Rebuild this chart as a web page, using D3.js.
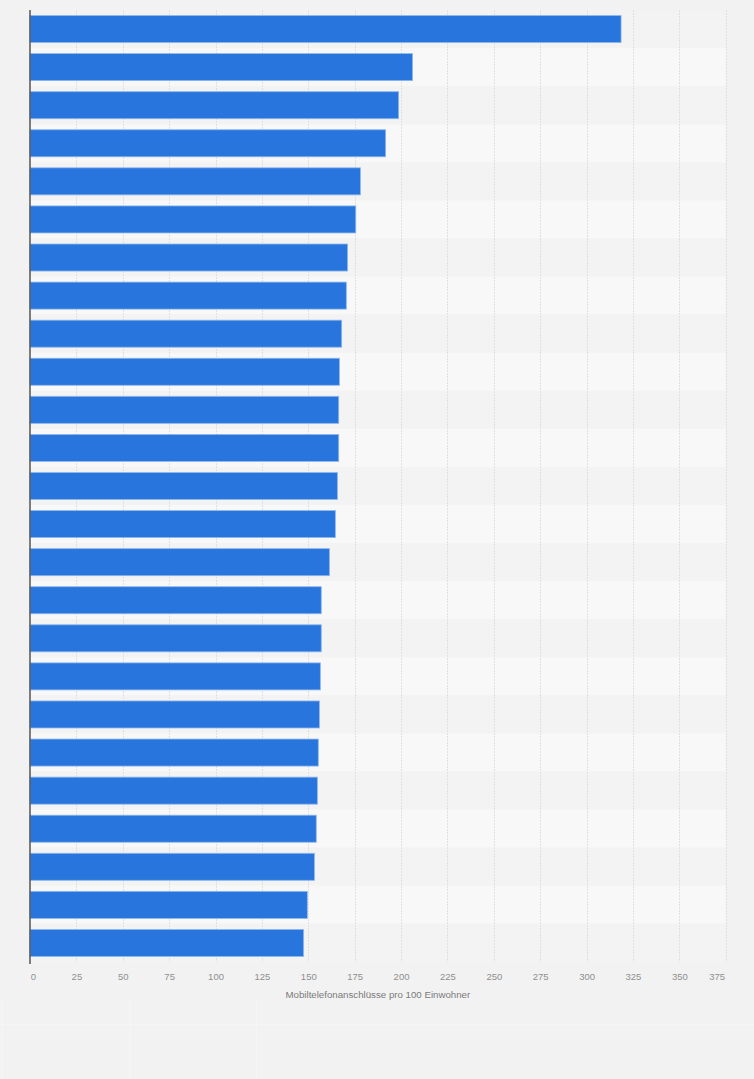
<!DOCTYPE html>
<html>
<head>
<meta charset="utf-8">
<script src="https://cdn.jsdelivr.net/npm/d3@7"></script>
<style>
  body { margin: 0; background: #f2f2f2; }
  svg { display: block; font-family: "Liberation Sans", Arial, sans-serif; }
</style>
</head>
<body>
<div id="chart"></div>
<script>
// one value per bar, top to bottom (category labels are not shown in the picture)
var ranks = d3.range(1, 26).map(function(i) { return "r" + i; });
var values = [318.6, 206.2, 198.7, 191.7, 178.1, 175.6, 171.2, 170.5, 168.0, 166.8,
              166.4, 166.4, 165.7, 164.6, 161.4, 157.0, 157.0, 156.5, 156.0, 155.4,
              154.9, 154.3, 153.3, 149.5, 147.5];
var xTicks = [0, 25, 50, 75, 100, 125, 150, 175, 200, 225, 250, 275, 300, 325, 350, 375];
var axisTitle = "Mobiltelefonanschlüsse pro 100 Einwohner";

var W = 754, H = 1079;
var margin = { top: 10, left: 30, right: 28.3, bottom: 117 };
var w = W - margin.left - margin.right,
    h = H - margin.top - margin.bottom;

var svg = d3.select("#chart").append("svg").attr("width", W).attr("height", H)
svg.append("rect").attr("width", W).attr("height", H).attr("fill", "#f2f2f2")

// faint footer divisions
var foot = svg.append("g").attr("stroke", "#f5f5f5").attr("stroke-width", 1)
foot.append("line").attr("x1", 0).attr("x2", W).attr("y1", 1024.5).attr("y2", 1024.5)
;[2.5, 130.5, 256.5].forEach(function(x) {
  foot.append("line").attr("x1", x).attr("x2", x).attr("y1", 1000).attr("y2", H)
})

var g = svg.append("g").attr("transform", "translate(" + margin.left + "," + margin.top + ")")

var x = d3.scaleLinear().domain([0, 375]).range([0, w]);
var yBand = d3.scaleBand().domain(ranks).range([0, h]);
var y = d3.scaleBand().domain(ranks).range([0, h]).paddingInner(0.29).paddingOuter(0.145);

// alternating row stripes
g.selectAll("rect.stripe").data(ranks).enter().append("rect")
    .attr("class", "stripe")
    .attr("x", 0)
    .attr("y", function(d) { return yBand(d); })
    .attr("width", w)
    .attr("height", yBand.bandwidth())
    .attr("fill", function(d, i) { return i % 2 ? "#f8f8f8" : "#f3f3f3"; })

// dashed vertical gridlines
g.selectAll("line.grid").data(xTicks.slice(1)).enter().append("line")
    .attr("class", "grid")
    .attr("x1", function(d) { return Math.round(x(d)) + 0.5; })
    .attr("x2", function(d) { return Math.round(x(d)) + 0.5; })
    .attr("y1", 0)
    .attr("y2", h)
    .attr("stroke", "#e0e0e0")
    .attr("stroke-width", 1)
    .attr("stroke-dasharray", "2,1")

// bars
g.selectAll("rect.bar").data(values).enter().append("rect")
    .attr("class", "bar")
    .attr("x", 0)
    .attr("y", function(d, i) { return y(ranks[i]); })
    .attr("width", function(d) { return x(d); })
    .attr("height", y.bandwidth())
    .attr("fill", "#2876dd")
    .attr("stroke", "#8fb8ec")
    .attr("stroke-width", 0.8)

// y axis line
g.append("line")
    .attr("x1", 0).attr("x2", 0)
    .attr("y1", 0).attr("y2", h + 2)
    .attr("stroke", "#555").attr("stroke-width", 1.5)

// x axis labels
var xAxis = d3.axisBottom(x).tickValues(xTicks).tickSize(0).tickPadding(0)
var ax = g.append("g").attr("transform", "translate(0," + (h + 11.5) + ")").call(xAxis)
ax.select(".domain").remove()
ax.selectAll("text")
    .attr("dy", "0.71em")
    .attr("fill", "#8f8f8f")
    .style("font-size", "9.5px")
    .attr("dx", function(d) { return d === 0 ? 3 : (d === 375 ? -9 : 0); })

g.append("text")
    .attr("x", w / 2)
    .attr("y", h + 35.5)
    .attr("text-anchor", "middle")
    .attr("fill", "#7a7a7a")
    .style("font-size", "9.7px")
    .text(axisTitle)
</script>
</body>
</html>
